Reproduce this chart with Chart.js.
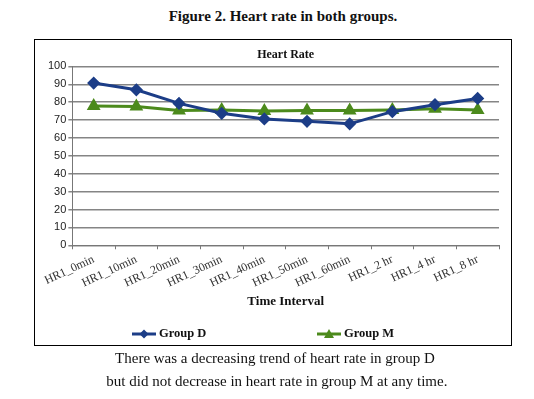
<!DOCTYPE html>
<html>
<head>
<meta charset="utf-8">
<script src="https://cdn.jsdelivr.net/npm/chart.js@4/dist/chart.umd.min.js"></script>
<style>
  body { margin: 0; background: #fff; width: 534px; height: 399px; position: relative; font-family: "Liberation Serif", serif; }
  #fig { position: absolute; top: 8px; left: 16px; width: 534px; text-align: center; font-weight: bold; font-size: 15px; color: #111; }
  #box { position: absolute; left: 34px; top: 39px; width: 476px; height: 305px; border: 1px solid #000; }
  #legend { position: absolute; left: 0; top: 286px; width: 476px; height: 16px; font-weight: bold; font-size: 12.5px; color: #111; }
  #legend span { position: absolute; top: 0; display: flex; align-items: center; }
  #legend canvas { margin-right: 3px; }
  #cap { position: absolute; top: 347px; left: 5px; width: 540px; text-align: center; font-size: 15px; line-height: 23px; color: #111; }
</style>
</head>
<body>
<div id="fig">Figure 2. Heart rate in both groups.</div>
<div id="box"><canvas id="hrChart" width="476" height="305"></canvas><div id="legend"></div></div>
<div id="cap">There was a decreasing trend of heart rate in group D<br>&nbsp;but did not decrease in heart rate in group M at any time.</div>
<script>
// Time points on the x axis
var timeLabels = ['HR1_0min', 'HR1_10min', 'HR1_20min', 'HR1_30min', 'HR1_40min',
                  'HR1_50min', 'HR1_60min', 'HR1_2 hr', 'HR1_4 hr', 'HR1_8 hr'];
// Mean heart rate per group
var groupD = [90.7, 86.9, 79.3, 73.8, 70.6, 69.3, 67.9, 74.7, 78.6, 82.1];
var groupM = [77.9, 77.6, 75.4, 75.6, 75.0, 75.3, 75.4, 75.6, 76.3, 75.6];
var seriesNames = ['Group D', 'Group M'];
var yTicks = [0, 10, 20, 30, 40, 50, 60, 70, 80, 90, 100];

var blue = '#1c3d87';
var green = '#4c8a1c';

// Small line + marker icon for the legend
function legendIcon(color, shape) {
    var c = document.createElement('canvas');
    c.width = 24; c.height = 12;
    var g = c.getContext('2d');
    g.strokeStyle = color; g.fillStyle = color; g.lineWidth = 3;
    g.beginPath(); g.moveTo(0, 6); g.lineTo(24, 6); g.stroke();
    g.beginPath();
    if (shape === 'diamond') {
        g.moveTo(12, 1.5); g.lineTo(16.5, 6); g.lineTo(12, 10.5); g.lineTo(7.5, 6);
    } else {
        g.moveTo(12, 1); g.lineTo(17, 10); g.lineTo(7, 10);
    }
    g.closePath(); g.fill();
    return c;
}

// Legend is built as html so the two entries sit far apart like the original
var legendLeft = [97, 282];
var legendDiv = document.getElementById('legend');
seriesNames.forEach(function(name, i) {
    var item = document.createElement('span');
    item.style.left = legendLeft[i] + 'px';
    item.appendChild(legendIcon(i === 0 ? blue : green, i === 0 ? 'diamond' : 'triangle'));
    item.appendChild(document.createTextNode(name));
    legendDiv.appendChild(item);
});

var ctx = document.getElementById('hrChart').getContext('2d');
var hrChart = new Chart(ctx, {
    type: 'line',
    data: {
        labels: timeLabels,
        datasets: [{
            label: seriesNames[0],
            data: groupD,
            borderColor: blue,
            backgroundColor: blue,
            borderWidth: 3,
            pointStyle: 'rectRot',
            pointRadius: 4.5,
            pointHoverRadius: 4.5,
            tension: 0
        }, {
            label: seriesNames[1],
            data: groupM,
            borderColor: green,
            backgroundColor: green,
            borderWidth: 3,
            pointStyle: 'triangle',
            pointRadius: 5,
            pointHoverRadius: 5,
            tension: 0
        }]
    },
    options: {
        responsive: false,
        animation: false,
        layout: { padding: { left: 11, right: 12, top: 0, bottom: 36 } },
        plugins: {
            title: {
                display: true,
                fullSize: false,
                text: 'Heart Rate',
                color: '#111',
                font: { family: 'Liberation Serif', size: 12, weight: 'bold' },
                padding: { top: 8, bottom: 4 }
            },
            legend: { display: false },
            tooltip: { enabled: false }
        },
        scales: {
            x: {
                offset: true,
                grid: { display: true, drawOnChartArea: false, drawTicks: true, tickLength: 4, color: '#777', offset: true },
                border: { color: '#777', width: 1 },
                ticks: {
                    minRotation: 25, maxRotation: 25, autoSkip: false,
                    color: '#333',
                    font: { family: 'Liberation Serif', size: 12 }
                },
                title: {
                    display: true, text: 'Time Interval', color: '#111',
                    font: { family: 'Liberation Serif', size: 13, weight: 'bold' },
                    padding: { top: 0, bottom: 0 }
                }
            },
            y: {
                min: 0, max: 100,
                afterBuildTicks: function(axis) {
                    axis.ticks = yTicks.map(function(v) { return { value: v }; });
                },
                grid: { color: '#858585', lineWidth: 1.5, tickLength: 4 },
                border: { color: '#777', width: 1 },
                ticks: {
                    color: '#222', padding: 2, autoSkip: false,
                    font: { family: 'Liberation Sans', size: 11 }
                }
            }
        }
    }
});
</script>
</body>
</html>
